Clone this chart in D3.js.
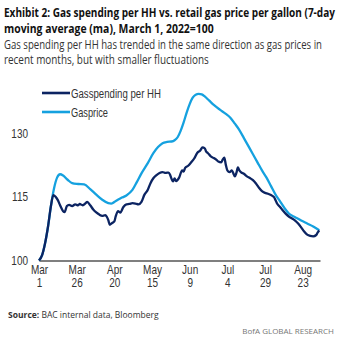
<!DOCTYPE html>
<html>
<head>
<meta charset="utf-8">
<script src="https://cdn.jsdelivr.net/npm/d3@7"></script>
<style>
  body { margin: 0; background: #fff; }
  svg { display: block; }
</style>
</head>
<body>
<script>
// Days since March 1, 2022 and index values (March 1, 2022 = 100)
var priceDays = [0, 2, 4, 6, 8, 10, 12, 14, 16, 19, 22, 26, 30, 34, 38, 42, 46, 48, 51, 55, 58, 62, 65, 68, 72, 76, 79, 82, 85, 88, 90, 92, 94, 96, 98, 100, 102, 104, 106, 108, 110, 113, 116, 120, 124, 127, 130, 133, 136, 139, 142, 145, 148, 151, 154, 157, 160, 163, 166, 170, 174, 178, 182, 186];
var priceValues = [100, 101.2, 104, 108, 113, 117, 119.5, 120.3, 120, 119, 118.2, 118, 117.9, 116.8, 115.5, 114.3, 113.5, 113.4, 114, 114.8, 115.3, 116.6, 118.5, 120.5, 122.8, 125.3, 126.7, 127.6, 127.9, 128, 128.3, 129, 130.5, 132.5, 134.8, 136.8, 138.3, 139, 139.2, 139.1, 138.6, 137.6, 136.6, 135.5, 134.5, 133.6, 132.2, 130.7, 128.8, 126.9, 125, 123.1, 121.2, 119.5, 117.5, 115.5, 113.9, 112.3, 111, 110.2, 109.4, 108.7, 108, 107.1];

var spendDays = [0, 2, 4, 6, 8, 9.5, 11, 12.5, 14, 16, 17, 18.5, 20, 22, 24, 26, 27, 29, 31, 32, 34, 36, 38, 40, 42, 44, 45, 46, 47, 48, 50, 51, 52.5, 54, 56, 58, 60, 62, 64, 66, 68, 70, 72, 74, 76, 78, 80, 82, 84, 86, 87, 88, 89, 90, 91, 93, 95, 96, 97, 99, 101, 103, 105, 107, 108.5, 110, 111, 112, 114, 116, 118, 119, 121, 122, 123, 124, 125, 126.5, 128, 129, 130, 131, 132, 133, 134, 136, 138, 140, 142, 144, 146, 148, 150, 152, 154, 156, 157, 158, 160, 162, 164, 166, 168, 170, 172, 174, 176, 178, 180, 182, 184, 185, 186];
var spendValues = [100, 101.2, 104, 108, 113, 115.4, 115, 114.2, 113, 111.6, 111.4, 112.8, 113.1, 112.8, 113.2, 113, 113.3, 113, 113.5, 113.8, 113, 112, 111.3, 110.8, 110.5, 110.7, 110.3, 109.5, 108.4, 108.7, 109.2, 110.5, 111.6, 111.3, 112.6, 113.2, 113.3, 113.5, 113.4, 113.2, 113.8, 115.5, 116.5, 118.2, 119.4, 120.1, 120.6, 120.8, 120.6, 120.7, 120.2, 119.2, 118.6, 119.3, 118.7, 119.5, 121.2, 120.9, 121.8, 122.3, 123.1, 124, 125.3, 125.9, 126.6, 126.4, 125.6, 125.3, 124.5, 124.1, 123.6, 123.3, 123.1, 123.8, 124.2, 122.5, 121.2, 120.8, 121.2, 120.5, 119.8, 120.6, 121.9, 121.2, 120.8, 120.4, 119.8, 119.4, 118.9, 118.1, 117.1, 116.3, 115.9, 115.7, 115.4, 114.9, 114.2, 113.4, 112.6, 111.7, 110.9, 110.3, 109.9, 109.4, 108.7, 107.8, 106.8, 106.1, 105.8, 105.7, 106, 106.6, 107.1];

var seriesNames = ["Gasspending per HH", "Gasprice"];
var yTicks = [100, 115, 130];
var xTickDays = [0, 25, 50, 75, 100, 125, 150, 175];

var W = 343, H = 345;
var start = new Date(2022, 2, 1);
function toDate(d) { return d3.timeHour.offset(start, d * 24); }

var svg = d3.select("body").append("svg")
    .attr("width", W)
    .attr("height", H);

// Text squeezed horizontally to a given width (the original uses a condensed face)
function addText(txt, xx, yy, len, size, weight, color, family) {
    var t = svg.append("text")
        .attr("x", 0).attr("y", 0)
        .style("font-family", family || "'Open Sans', sans-serif")
        .style("font-weight", weight).style("font-size", size).style("fill", color)
        .text(txt);
    var w = t.node().getComputedTextLength();
    t.attr("transform", "translate(" + xx + "," + yy + ") scale(" + (len / w) + ",1)");
    return t;
}

// Title and subtitle
addText("Exhibit 2: Gas spending per HH vs. retail gas price per gallon (7-day", 4, 17, 331, "13px", "bold", "#111");
addText("moving average (ma), March 1, 2022=100", 4, 33, 210, "13px", "bold", "#111");
addText("Gas spending per HH has trended in the same direction as gas prices in", 4, 49, 318, "12px", "normal", "#333");
addText("recent months, but with smaller fluctuations", 4, 64, 205, "12px", "normal", "#333");

// Scales
var x = d3.scaleTime()
    .domain([start, toDate(186.5)])
    .range([39, 320]);
var y = d3.scaleLinear()
    .domain([100, 130])
    .range([260.5, 133]);

var narrow = "scale(0.8,1)";

// Y axis (labels only)
var yAxis = svg.append("g")
    .attr("transform", "translate(28,0)")
    .call(d3.axisLeft(y).tickValues(yTicks).tickSize(0).tickPadding(0));
yAxis.select(".domain").remove();
yAxis.selectAll("text")
    .attr("transform", narrow)
    .style("font-family", "'Liberation Sans', Arial, sans-serif")
    .style("font-size", "12.5px").style("fill", "#333");

// X axis
var xAxis = svg.append("g")
    .attr("transform", "translate(0," + y(100) + ")")
    .call(d3.axisBottom(x).tickValues(xTickDays.map(toDate)).tickSize(0).tickPadding(0));
xAxis.select(".domain").attr("stroke", "#555").attr("stroke-width", 1.5);
xAxis.selectAll(".tick text").each(function (d) {
    var t = d3.select(this).text("");
    t.append("tspan").attr("x", 0).attr("dy", "1.05em").text(d3.timeFormat("%b")(d));
    t.append("tspan").attr("x", 0).attr("dy", "1.1em").text(d3.timeFormat("%-d")(d));
});
xAxis.selectAll("text")
    .attr("transform", narrow)
    .style("font-family", "'Liberation Sans', Arial, sans-serif")
    .style("font-size", "12.5px").style("fill", "#333");

// Lines
var line = d3.line()
    .curve(d3.curveMonotoneX)
    .x(function (d) { return x(toDate(d[0])); })
    .y(function (d) { return y(d[1]); });

var spend = d3.zip(spendDays, spendValues);
var price = d3.zip(priceDays, priceValues);

svg.append("path")
    .datum(price)
    .attr("fill", "none")
    .attr("stroke", "#15a1df")
    .attr("stroke-width", 2.3)
    .attr("d", line);

svg.append("path")
    .datum(spend)
    .attr("fill", "none")
    .attr("stroke", "#0c2462")
    .attr("stroke-width", 2.3)
    .attr("stroke-linejoin", "round")
    .attr("d", line);

// Legend
var legColors = ["#0c2462", "#15a1df"];
var legLens = [90, 37];
seriesNames.forEach(function (name, i) {
    var ly = 93 + i * 19;
    svg.append("line")
        .attr("x1", 42).attr("x2", 70)
        .attr("y1", ly).attr("y2", ly)
        .attr("stroke", legColors[i]).attr("stroke-width", 2.6);
    addText(name, 71, ly + 4.5, legLens[i], "12.5px", "normal", "#333", "'Liberation Sans', Arial, sans-serif");
});

// Source and branding
var src = svg.append("text")
    .attr("x", 8).attr("y", 318)
    .style("font-family", "'Open Sans', sans-serif")
    .style("font-size", "8.5px").style("fill", "#333");
src.append("tspan").style("font-weight", "bold").text("Source:");
src.append("tspan").text(" BAC internal data, Bloomberg");

svg.append("text")
    .attr("x", 334).attr("y", 334)
    .attr("text-anchor", "end")
    .style("font-family", "'Open Sans', sans-serif")
    .style("font-size", "8px").style("fill", "#777")
    .text("BofA GLOBAL RESEARCH");
</script>
</body>
</html>
